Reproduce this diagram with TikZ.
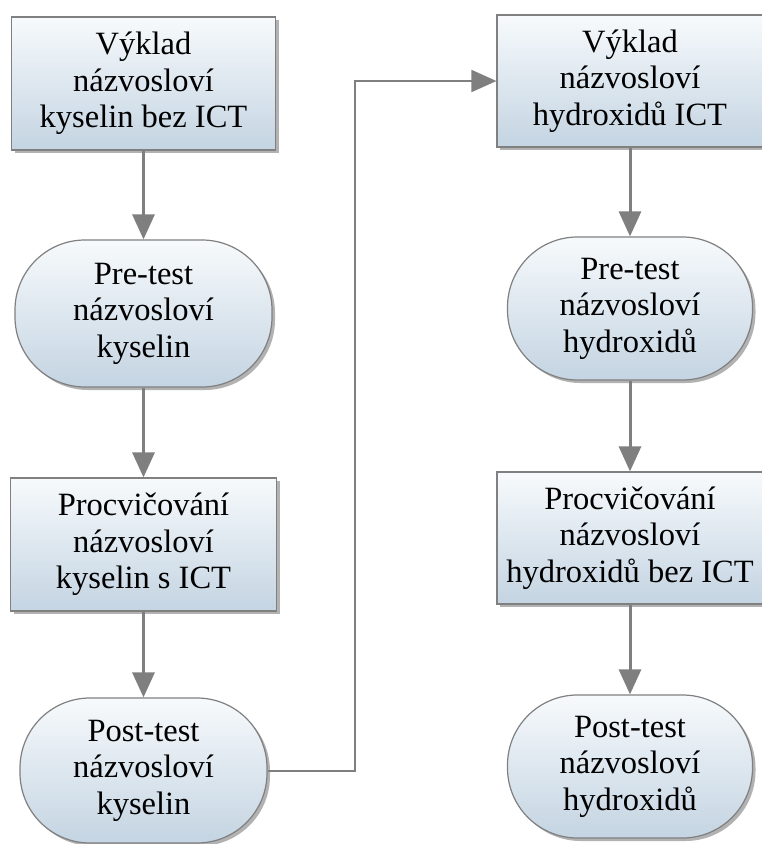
\documentclass[tikz,border=0pt]{standalone}
\usepackage{fontspec}
\setmainfont{Liberation Serif}
\usetikzlibrary{arrows.meta,shadows}
\definecolor{boxtop}{RGB}{247,250,252}
\definecolor{boxbot}{RGB}{196,212,226}
\definecolor{edgegray}{RGB}{128,128,128}
\definecolor{arrowgray}{RGB}{127,127,127}
\begin{document}
\begin{tikzpicture}[x=1pt,y=-1pt,
  box/.style={draw=edgegray, line width=1.2pt, top color=boxtop, bottom color=boxbot,
    align=center, font=\fontsize{32.5}{36.5}\selectfont, inner sep=0pt, text=black,
    drop shadow={shadow xshift=3pt,shadow yshift=-3pt,fill=black,opacity=0.3}},
  procbox/.style={box, rectangle},
  termbox/.style={box, rectangle, rounded corners=70pt},
  flow/.style={draw=arrowgray, line width=3pt, -{Triangle[length=25pt,width=22pt]}},
  link/.style={draw=arrowgray, line width=2pt, -{Triangle[length=25pt,width=22pt]}}]
\useasboundingbox (0,0) rectangle (761,844);
% left column
\node[procbox, minimum width=264pt, minimum height=133pt] (L1) at (143.5,83.5) {Výklad\\názvosloví\\kyselin bez ICT};
\node[termbox, minimum width=257pt, minimum height=147pt] (L2) at (143.5,313.5) {Pre-test\\názvosloví\\kyselin};
\node[procbox, minimum width=266pt, minimum height=133pt] (L3) at (143.5,544.5) {Procvičování\\názvosloví\\kyselin s ICT};
\node[termbox, minimum width=247pt, minimum height=145pt] (L4) at (143.5,770.5) {Post-test\\názvosloví\\kyselin};
% right column
\node[procbox, minimum width=266pt, minimum height=132pt] (R1) at (630,81) {Výklad\\názvosloví\\hydroxidů ICT};
\node[termbox, minimum width=245pt, minimum height=143pt] (R2) at (630,308.5) {Pre-test\\názvosloví\\hydroxidů};
\node[procbox, minimum width=266pt, minimum height=132pt] (R3) at (630,538) {Procvičování\\názvosloví\\hydroxidů bez ICT};
\node[termbox, minimum width=245pt, minimum height=143pt] (R4) at (630,766.5) {Post-test\\názvosloví\\hydroxidů};
% connectors
\draw[flow] (L1) -- (L2);
\draw[flow] (L2) -- (L3);
\draw[flow] (L3) -- (L4);
\draw[flow] (R1) -- (R2);
\draw[flow] (R2) -- (R3);
\draw[flow] (R3) -- (R4);
\coordinate (bend) at (355,400);
\draw[link] (L4.east) -- (L4.east -| bend) -- (bend |- R1.west) -- (R1.west);
\end{tikzpicture}
\end{document}
